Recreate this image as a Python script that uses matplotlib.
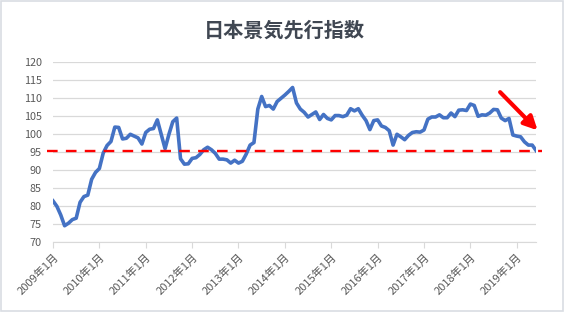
import matplotlib
matplotlib.use('Agg')
import matplotlib.pyplot as plt
from matplotlib.patches import Rectangle
import numpy as np

# monthly leading index, 2009-01 .. 2019-06
values = [
    81.5, 80.0, 77.6, 74.6, 75.3, 76.3, 76.7, 81.1, 82.7, 83.1, 87.5, 89.4,
    90.5, 94.8, 96.9, 98.0, 102.0, 101.9, 98.7, 98.9, 100.0, 99.5, 99.0, 97.3,
    100.5, 101.4, 101.6, 104.0, 100.0, 96.0, 100.0, 103.5, 104.5, 93.2, 91.7, 91.8,
    93.3, 93.5, 94.4, 95.7, 96.4, 95.7, 94.7, 93.1, 93.1, 92.9, 92.0, 92.8,
    92.0, 92.5, 94.5, 97.0, 97.7, 107.0, 110.5, 107.7, 108.0, 107.0, 109.1, 110.0,
    110.9, 111.9, 113.0, 108.7, 107.0, 106.1, 104.8, 105.5, 106.2, 104.1, 105.5, 104.4,
    104.0, 105.2, 105.2, 104.9, 105.3, 107.1, 106.5, 107.1, 105.3, 103.8, 101.3, 103.8,
    104.0, 102.3, 101.9, 101.0, 97.0, 100.0, 99.3, 98.5, 99.7, 100.5, 100.7, 100.6,
    101.2, 104.2, 104.8, 104.8, 105.4, 104.6, 104.6, 105.9, 104.9, 106.7, 106.8, 106.6,
    108.4, 108.0, 105.0, 105.4, 105.3, 105.9, 106.9, 106.8, 104.5, 103.8, 104.4, 99.8,
    99.5, 99.3, 97.9, 97.0, 97.0, 95.5,
]
years = list(range(2009, 2020))
tick_labels = [f'{y}年1月' for y in years]
ref_level = 95.4
y_ticks = list(range(70, 121, 5))

plt.rcParams['font.family'] = ['Noto Sans CJK JP', 'DejaVu Sans']

fig = plt.figure(figsize=(5.65, 3.12), dpi=100)
ax = fig.add_axes([0.0938, 0.2234, 0.855, 0.577])

x = np.arange(len(values))
ax.plot(x, values, color='#4472C4', lw=2.6, solid_joinstyle='round')

# reference level (dashed red), a bit wider than the plot
ax.hlines(ref_level, -1.5, len(values) + 0.5, colors='#FF0000', lw=1.7,
          linestyles=(0, (4.5, 3.5)), clip_on=False, zorder=3)

# downward arrow at the right
ax.annotate('', xy=(len(values) - 0.6, 101.1), xytext=(len(values) - 10.3, 111.7),
            xycoords='data', annotation_clip=False,
            arrowprops=dict(arrowstyle='-|>', color='#FF0000', lw=3,
                            mutation_scale=20, shrinkA=0, shrinkB=0))

ax.set_xlim(0, len(values) - 1)
ax.set_ylim(70, 120)
ax.set_yticks(y_ticks)
ax.set_xticks(np.arange(0, len(values), 12))
ax.set_xticklabels(tick_labels, rotation=45, ha='right', va='top',
                   rotation_mode='anchor', fontsize=8, color='#595959')
ax.tick_params(axis='y', length=0, pad=8, labelsize=7.8, labelcolor='#595959')
ax.tick_params(axis='x', length=4, color='#D9D9D9', pad=3)
ax.grid(axis='y', color='#D9D9D9', lw=0.9)
ax.set_axisbelow(True)
for s in ['left', 'right', 'top']:
    ax.spines[s].set_visible(False)
ax.spines['bottom'].set_color('#D9D9D9')

fig.text(0.503, 0.905, '日本景気先行指数', ha='center', va='center',
         fontsize=14.5, fontweight='bold', color='#404752')

# chart frame
fig.patches.append(Rectangle((0.002, 0.004), 0.995, 0.992, transform=fig.transFigure,
                             fill=False, edgecolor='#D9DDE3', lw=1.2))

fig.savefig('out.png', dpi=100)
